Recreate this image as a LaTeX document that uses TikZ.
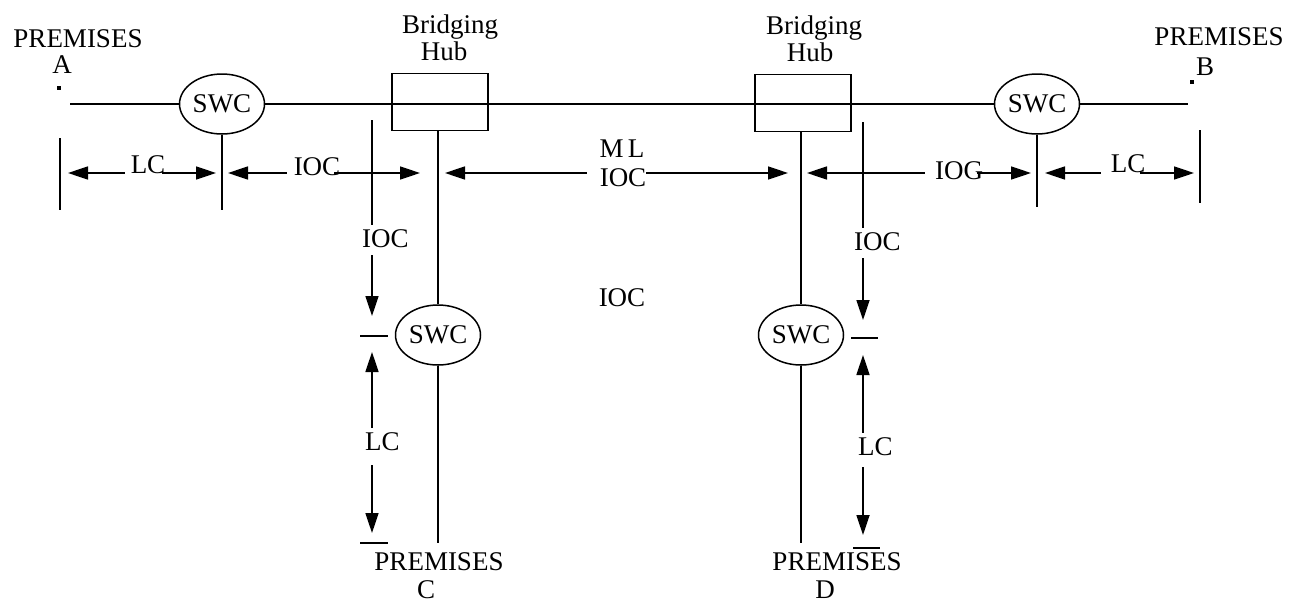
\documentclass[tikz,border=0pt]{standalone}
\usepackage{fontspec}
\setmainfont{Liberation Serif}
\usetikzlibrary{arrows.meta,shapes.geometric,calc}
\newcommand\lbfont{\fontsize{27}{30}\selectfont}
\begin{document}
\begin{tikzpicture}[x=1pt,y=-1pt,
  ln/.style={line width=1.7pt},
  arr/.style={line width=1.7pt,-{Triangle[length=20pt,width=13pt]}},
  swc/.style={draw,ellipse,line width=1.5pt,minimum width=85pt,minimum height=60pt,inner sep=0pt,font=\lbfont},
  hub/.style={draw,rectangle,line width=1.7pt,minimum width=96pt,minimum height=57pt,inner sep=0pt},
  lbl/.style={font=\lbfont,inner sep=0pt,anchor=base},
  lblw/.style={font=\lbfont,inner sep=0pt,anchor=base west},
  dot/.style={fill,inner sep=0pt,minimum size=3.5pt}]
\useasboundingbox (0,0) rectangle (1295,603);
\fill[white] (0,0) rectangle (1295,603);

% main components
\node[swc] (swcA) at (222,104) {SWC};
\node[swc] (swcB) at (1037,104) {SWC};
\node[swc] (swcC) at (438,335) {SWC};
\node[swc] (swcD) at (801,335) {SWC};
\node[hub] (hubA) at (440,102) {};
\node[hub] (hubB) at (803,103) {};

% titles
\node[lbl] (pA) at (78,47) {PREMISES};
\node[lbl] (pAl) at (62,73) {A};
\node[dot] (dA) at (59,88) {};
\node[lbl] (pB) at (1219,45) {PREMISES};
\node[lbl] (pBl) at (1205,75) {B};
\node[dot] (dB) at (1192,82) {};
\node[lbl] (brA) at (450,33) {Bridging};
\node[lbl] (hbA) at (444,60) {Hub};
\node[lbl] (brB) at (814,34) {Bridging};
\node[lbl] (hbB) at (810,61) {Hub};
\node[lbl] (pC) at (439,570) {PREMISES};
\node[lbl] (pCl) at (426,598) {C};
\node[lbl] (pD) at (837,570) {PREMISES};
\node[lbl] (pDl) at (825,598) {D};
\node[lbl] (iocM) at (622,306) {IOC};

% main line
\coordinate (mA) at (70,104);
\coordinate (mB) at (1188,104);
\draw[ln] (mA) -- (swcA.west);
\draw[ln] (swcA.east) -- (swcB.west);
\draw[ln] (swcB.east) -- (mB);

% hub drops
\draw[ln] (hubA.south -| swcC.north) -- (swcC.north);
\coordinate (cEnd) at (438,543);
\draw[ln] (swcC.south) -- (cEnd);
\draw[ln] (hubB.south -| swcD.north) -- (swcD.north);
\coordinate (dEnd) at (801,543);
\draw[ln] (swcD.south) -- (dEnd);

% horizontal measurement row
\coordinate (row) at (0,173);
\coordinate (bA1) at (60,138); \coordinate (bA2) at (60,210);
\draw[ln] (bA1) -- (bA2);
\coordinate (sA) at (222,210);
\draw[ln] (swcA.south) -- (sA);
\coordinate (bB1) at (1200,130); \coordinate (bB2) at (1200,203);
\draw[ln] (bB1) -- (bB2);
\coordinate (sB) at (1037,207);
\draw[ln] (swcB.south) -- (sB);

\node[lbl] (lcA) at (148,173) {LC};
\draw[arr] ($(lcA.west |- row)+(-6,0)$) -- (68,173);
\draw[arr] ($(lcA.east |- row)+(-3,0)$) -- (216,173);

\node[lbl] (iocA) at (317,175) {IOC};
\draw[arr] ($(iocA.west |- row)+(-7,0)$) -- (228,173);
\draw[arr] ($(iocA.east |- row)+(-6,0)$) -- (420,173);

\node[lbl] (mlB) at (622,157) {M\,L};
\node[lbl] (iocB) at (623,186) {IOC};
\draw[arr] ($(iocB.west |- row)+(-13,0)$) -- (445,173);
\draw[arr] ($(iocB.east |- row)+(0,0)$) -- (788,173);

\node[lbl] (iogC) at (959,179) {IOG};
\draw[arr] ($(iogC.west |- row)+(-10,0)$) -- (807,173);
\draw[arr] ($(iogC.east |- row)+(-6,0)$) -- (1031,173);

\node[lbl] (lcB) at (1128,172) {LC};
\draw[arr] ($(lcB.west |- row)+(-10,0)$) -- (1045,173);
\draw[arr] ($(lcB.east |- row)+(-5,0)$) -- (1194,173);

% left vertical dimension (premises C)
\coordinate (vC0) at (372,120);
\node[lblw] (iocC) at (362,247) {IOC};
\draw[ln] (vC0) -- ($(vC0 |- iocC.north)+(0,-4)$);
\draw[arr] ($(vC0 |- iocC.south)+(0,8)$) -- (372,316);
\coordinate (hC1a) at (360,336); \coordinate (hC1b) at (388,336);
\draw[ln] (hC1a) -- (hC1b);
\node[lblw] (lcC) at (365,450) {LC};
\draw[arr] ($(vC0 |- lcC.north)+(0,-4)$) -- (372,352);
\draw[arr] ($(vC0 |- lcC.south)+(0,15)$) -- (372,533);
\coordinate (hC2a) at (360,543); \coordinate (hC2b) at (388,543);
\draw[ln] (hC2a) -- (hC2b);

% right vertical dimension (premises D)
\coordinate (vD0) at (863,122);
\node[lblw] (iocD) at (854,250) {IOC};
\draw[ln] (vD0) -- ($(vD0 |- iocD.north)+(0,-4)$);
\draw[arr] ($(vD0 |- iocD.south)+(0,8)$) -- (863,320);
\coordinate (hD1a) at (851,338); \coordinate (hD1b) at (878,338);
\draw[ln] (hD1a) -- (hD1b);
\node[lblw] (lcD) at (858,455) {LC};
\draw[arr] ($(vD0 |- lcD.north)+(0,-4)$) -- (863,355);
\draw[arr] ($(vD0 |- lcD.south)+(0,12)$) -- (863,535);
\coordinate (hD2a) at (853,548); \coordinate (hD2b) at (880,548);
\draw[ln] (hD2a) -- (hD2b);
\end{tikzpicture}
\end{document}
